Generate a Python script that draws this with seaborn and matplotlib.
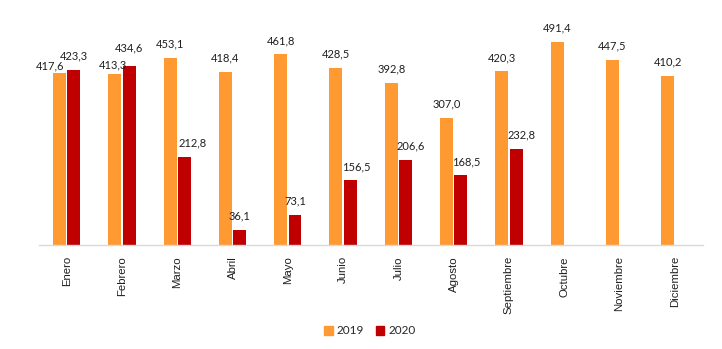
import numpy as np
import pandas as pd
import matplotlib
matplotlib.use("Agg")
import matplotlib.pyplot as plt
import seaborn as sns

# Monthly values by year
meses = ["Enero", "Febrero", "Marzo", "Abril", "Mayo", "Junio", "Julio",
         "Agosto", "Septiembre", "Octubre", "Noviembre", "Diciembre"]
valores_2019 = [417.6, 413.3, 453.1, 418.4, 461.8, 428.5, 392.8,
                307.0, 420.3, 491.4, 447.5, 410.2]
valores_2020 = [423.3, 434.6, 212.8, 36.1, 73.1, 156.5, 206.6,
                168.5, 232.8, np.nan, np.nan, np.nan]
anios = ["2019", "2020"]
colores = {"2019": "#FF9A33", "2020": "#C00000"}

# nudges for the value labels (points): horizontal and vertical
dx_2019 = [-7, -1.5, 0, 0, 0, 0, 0, 0, 0, 0, 0, 0]
dy_2019 = [1, 3, 6, 6, 6, 6, 6, 6, 6, 6, 6, 6]
dx_2020 = [0, 0, 6, 0, 0, 4, 3.6, 3.6, 3.6, 0, 0, 0]
dy_2020 = [6, 9, 6, 6, 6, 6, 6, 6, 6, 6, 6, 6]

df = pd.DataFrame({
    "mes": meses * 2,
    "anio": [anios[0]] * len(meses) + [anios[1]] * len(meses),
    "valor": valores_2019 + valores_2020,
})

sns.set_theme(style="white")
plt.rcParams["font.family"] = ["Liberation Sans", "DejaVu Sans"]

fig = plt.figure(figsize=(7.22, 3.49), dpi=100)
ax = fig.add_axes([0.054, 0.298, 0.919, 0.639])

sns.barplot(data=df, x="mes", y="valor", hue="anio", order=meses,
            hue_order=anios, palette=colores, width=0.52, gap=0.1,
            saturation=1, ax=ax, legend=True, edgecolor="none")

ax.set_ylim(0, 540)
ax.set_xlim(-0.5, len(meses) - 0.5)
ax.set_xlabel("")
ax.set_ylabel("")
ax.set_yticks([])
for s in ["top", "right", "left"]:
    ax.spines[s].set_visible(False)
ax.spines["bottom"].set_color("#d9d9d9")
ax.spines["bottom"].set_linewidth(1.0)
ax.tick_params(axis="x", length=0, pad=8, labelsize=8.2, labelcolor="#1f1f1f")
plt.setp(ax.get_xticklabels(), rotation=90)

series = [(valores_2019, dx_2019, dy_2019), (valores_2020, dx_2020, dy_2020)]
for cont, (vals, dxs, dys) in zip(ax.containers, series):
    for bar, v, dx, dy in zip(cont, vals, dxs, dys):
        if np.isnan(v):
            continue
        x = bar.get_x() + bar.get_width() / 2
        ax.annotate(f"{v:.1f}".replace(".", ","), (x, v),
                    xytext=(dx, dy), textcoords="offset points",
                    ha="center", va="bottom", fontsize=8,
                    family=["Lato", "DejaVu Sans"], color="#1f1f1f")

leg = ax.get_legend()
if leg is not None:
    leg.remove()
handles = [plt.Rectangle((0, 0), 1, 1, color=colores[a]) for a in anios]
fig.legend(handles, anios, loc="center", bbox_to_anchor=(0.512, 0.052),
           ncol=2, frameon=False, handlelength=0.75, handleheight=0.75,
           handletextpad=0.3, columnspacing=1.0,
           prop={"family": ["Lato", "DejaVu Sans"], "size": 8.5})

fig.savefig("out.png", dpi=100, facecolor="white")
